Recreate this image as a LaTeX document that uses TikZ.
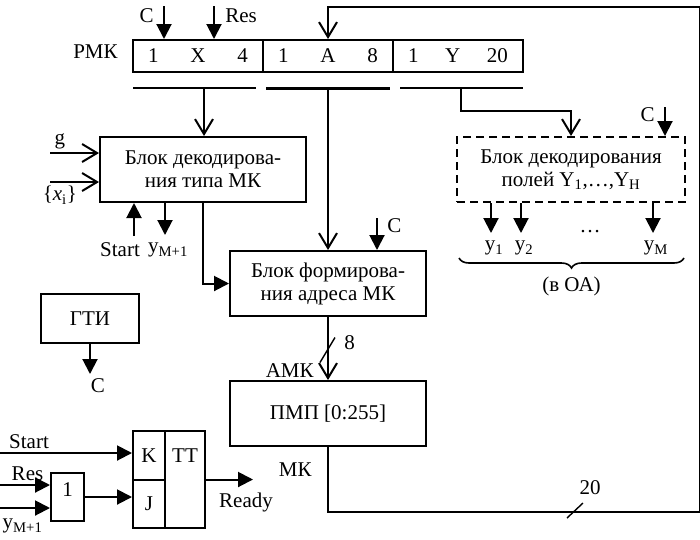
\documentclass[tikz,border=0pt]{standalone}
\usepackage{fontspec}
\setmainfont{Liberation Serif}
\usetikzlibrary{arrows.meta,positioning,calc,decorations.pathreplacing}

\begin{document}
\begin{tikzpicture}[
    x=1pt, y=-1pt, line width=2pt,
    font=\fontsize{21}{23}\selectfont,
    blk/.style={draw, minimum width=#1, minimum height=65pt, align=center, inner sep=2pt},
    fld/.style={draw, minimum width=130pt, minimum height=32pt, text width=100pt, inner sep=0pt},
    cell/.style={draw, inner sep=0pt},
    sig/.style={-{Triangle[length=15pt,width=15pt]}},
    bus/.style={-{Straight Barb[length=15pt,width=18pt]}},
  ]
  \useasboundingbox (0,0) rectangle (700,539);

  % =================== REGISTER ===================
  \node[fld] (fx) at (198,56) {1\hfill X\hfill 4};
  \node[fld] (fa) at (328,56) {1\hfill A\hfill 8};
  \node[fld] (fy) at (458,56) {1\hfill Y\hfill 20};
  \node[left=10pt of fx, yshift=4pt] (rmk) {РМК};

  \coordinate (cin) at (164,6);
  \coordinate (rin) at (214,6);
  \draw[sig] (cin) -- (cin |- fx.north) node[pos=0.3, left=6pt] {C};
  \draw[sig] (rin) -- (rin |- fx.north) node[pos=0.3, right=7pt] {Res};

  % field buses
  \coordinate (bx) at (204,88);
  \coordinate (ba) at (328,88);
  \coordinate (by) at (461,88);
  \draw (133,88) -- (256,88);
  \draw[line width=3pt] (266,88) -- (390,88);
  \draw (400,88) -- (523,88);

  % =================== BLOCKS ===================
  \node[blk=206pt] (dec) at (203,169.5) {Блок декодирова-\\ния типа МК};
  \node[blk=196pt] (adr) at (328,283.5) {Блок формирова-\\ния адреса МК};
  \node[blk=228pt, dash pattern=on 8pt off 5pt] (ydec) at (571,169.5)
    {Блок декодирования\\полей Y\textsubscript{1},…,Y\textsubscript{H}};
  \node[blk=196pt] (pmp) at (328,413.5) {ПМП [0:255]};
  \node[draw, minimum width=98pt, minimum height=49pt] (gti) at (90,318.5) {ГТИ};

  \draw[bus] (bx) -- (bx |- dec.north);
  \draw[bus] (ba) -- (ba |- adr.north);
  \draw[bus] (by) |- ($(ydec.north)+(0,-25)$) -- (ydec.north);

  % decoder inputs / outputs
  \coordinate (gin) at (50,153);
  \coordinate (xin) at (50,182);
  \draw[bus] (gin) -- (gin -| dec.west) node[pos=0.2, above] {g};
  \draw[bus] (xin) -- (xin -| dec.west) node[pos=0.2, below] {\{\textit{x}\textsubscript{i}\}};
  \coordinate (stin) at (134,236);
  \draw[sig] (stin) node[below=2pt, xshift=-14pt] {Start} -- (stin |- dec.south);
  \draw[sig] (dec.south -| 165,0) -- ++(0,32) node[below=4pt, xshift=3pt] {y\textsubscript{M+1}};
  \draw[sig] (dec.south) |- (adr.west);

  \coordinate (cadr) at (377,218);
  \draw[sig] (cadr) -- (cadr |- adr.north) node[pos=0.25, right=6pt] {C};

  \draw[bus] (adr.south) -- (pmp.north)
    node[pos=0.4, right=12pt] {8} node[pos=0.85, left=10pt] {АМК};
  \draw[line width=1.4pt] ($(adr.south)!0.5!(pmp.north)$) ++(-8,14) -- ++(15,-25);

  % return bus
  \coordinate (ret) at (699.5,7);
  \draw[bus] (pmp.south) -- ++(0,65) node[pos=0.35, left=12pt] {МК} -| (ret) -| (fa.north);
  \draw[line width=1.4pt] (567,518) -- (583,503);
  \node at (590,488) {20};

  % Y decoder
  \coordinate (cy) at (665,107);
  \draw[sig] (cy) -- (cy |- ydec.north) node[pos=0.25, left=6pt] {C};
  \foreach \x/\s in {491/1, 521/2, 653/M}
    \draw[sig] (\x,0 |- ydec.south) -- ++(0,30) node[below=4pt, xshift=3pt] {y\textsubscript{\s}};
  \node at (590,232) {…};
  \draw[line width=1.6pt, decorate, decoration={brace, mirror, amplitude=10pt}]
    (459,258) -- (684,258) node[midway, below=15pt] (oa) {(в ОА)};

  % clock
  \draw[sig] (gti.south) -- ++(0,30) node[below, xshift=8pt] {C};

  % =================== TRIGGER ===================
  \node[cell, minimum width=32pt, minimum height=49pt] (kk) at (149,455.5) {K};
  \node[cell, minimum width=32pt, minimum height=48pt] (jj) at (149,504) {J};
  \node[cell, minimum width=40pt, minimum height=97pt] (tt) at (185,479.5) {};
  \node at (tt |- kk) {TT};
  \node[cell, minimum width=33pt, minimum height=48pt, text depth=14pt] (or1) at (67.5,497) {1};

  \coordinate (stin2) at (0,453);
  \coordinate (rsin) at (0,485);
  \coordinate (ymin) at (0,508);
  \draw[sig] (stin2) -- (stin2 -| kk.west) node[pos=0.22, above] {Start};
  \draw[sig] (rsin) -- (rsin -| or1.west) node[pos=0.55, above] {Res};
  \draw[sig] (ymin) -- (ymin -| or1.west) node[pos=0.45, below=7pt] {y\textsubscript{M+1}};
  \draw[sig] (or1) -- (or1 -| jj.west);
  \draw[sig] (tt.east) -- ++(47,0) node[below=9pt, xshift=-7pt] {Ready};

\end{tikzpicture}
\end{document}
